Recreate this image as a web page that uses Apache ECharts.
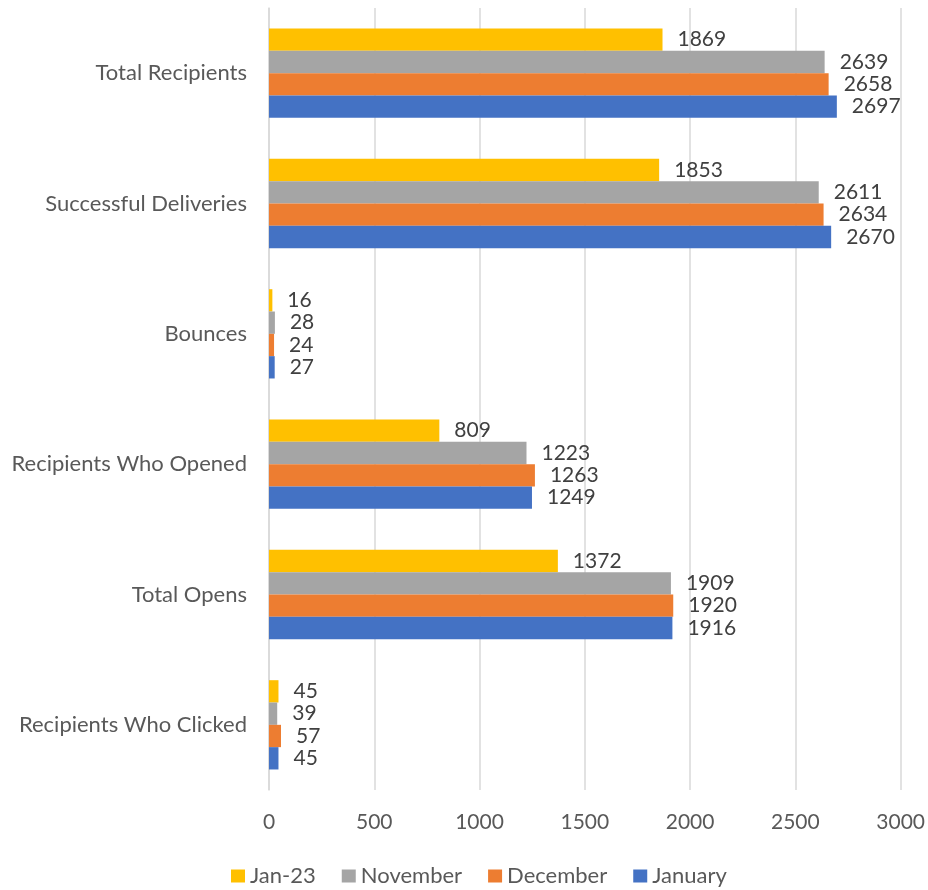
<!DOCTYPE html>
<html>
<head>
<meta charset="utf-8">
<script src="https://cdn.jsdelivr.net/npm/echarts@6/dist/echarts.min.js"></script>
<style>
  html, body { margin: 0; padding: 0; background: #fff; }
  #chart { width: 928px; height: 890px; }
</style>
</head>
<body>
<div id="chart"></div>
<script>
// Email campaign metrics by month
const categories = [
  'Total Recipients',
  'Successful Deliveries',
  'Bounces',
  'Recipients Who Opened',
  'Total Opens',
  'Recipients Who Clicked'
];
const seriesNames = ['Jan-23', 'November', 'December', 'January'];
const jan23 = [1869, 1853, 16, 809, 1372, 45];
const november = [2639, 2611, 28, 1223, 1909, 39];
const december = [2658, 2634, 24, 1263, 1920, 57];
const january = [2697, 2670, 27, 1249, 1916, 45];
const xTicks = [0, 500, 1000, 1500, 2000, 2500, 3000];

const colors = ['#FFC000', '#A5A5A5', '#ED7D31', '#4472C4'];
const values = [jan23, november, december, january];
const FONT = 'Lato';
const FS = 21;

const chart = echarts.init(document.getElementById('chart'));
chart.setOption({
  animation: false,
  textStyle: { fontFamily: FONT },
  grid: { left: 269, right: 27, top: 8, bottom: 100, containLabel: false },
  legend: {
    top: 865,
    left: 231,
    padding: 0,
    itemWidth: 14,
    itemHeight: 13,
    itemGap: 26,
    icon: 'rect',
    textStyle: { fontSize: 22, color: '#595959', fontFamily: FONT },
    data: seriesNames
  },
  xAxis: {
    type: 'value',
    min: xTicks[0],
    max: xTicks[xTicks.length - 1],
    interval: 500,
    axisLine: { show: false },
    axisTick: { show: false },
    splitLine: { lineStyle: { color: '#D9D9D9', width: 1.5 } },
    axisLabel: {
      fontSize: FS, color: '#595959', margin: 22, fontFamily: FONT,
      formatter: v => String(v)
    }
  },
  yAxis: {
    type: 'category',
    data: categories,
    inverse: true,
    axisLine: { show: true, lineStyle: { color: '#D9D9D9', width: 1.5 } },
    axisTick: { show: false },
    axisLabel: { fontSize: 22, color: '#595959', margin: 22, fontFamily: FONT }
  },
  series: seriesNames.map((name, i) => ({
    name: name,
    type: 'bar',
    data: values[i],
    barGap: '0%',
    barCategoryGap: '31.5%',
    itemStyle: { color: colors[i] },
    label: {
      show: true,
      position: 'right',
      distance: 15,
      fontSize: FS,
      color: '#404040',
      fontFamily: FONT
    }
  }))
});
</script>
</body>
</html>
